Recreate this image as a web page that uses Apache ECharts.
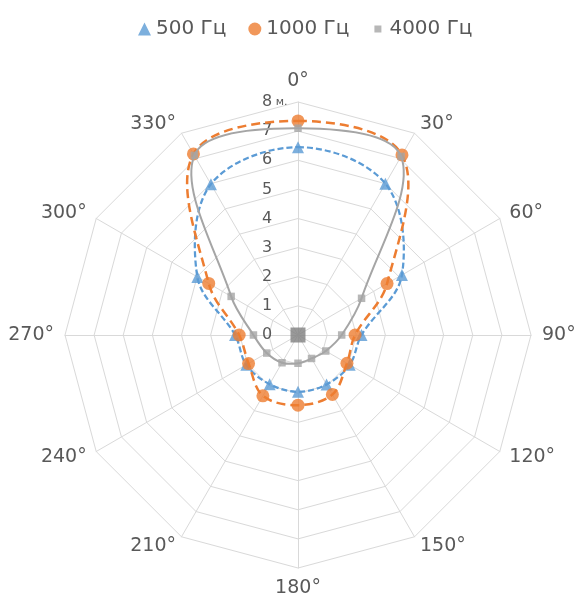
<!DOCTYPE html>
<html>
<head>
<meta charset="utf-8">
<script src="https://cdn.jsdelivr.net/npm/echarts@6/dist/echarts.min.js"></script>
<style>
html,body{margin:0;padding:0;background:#fff;}
#chart{width:575px;height:604px;}
</style>
</head>
<body>
<div id="chart"></div>
<script>
// ---- data ----
var angles = [0, 30, 60, 90, 120, 150, 180, 210, 240, 270, 300, 330];
var angleLabels = ['0°', '30°', '60°', '90°', '120°', '150°', '180°', '210°', '240°', '270°', '300°', '330°'];
var seriesNames = ['500 Гц', '1000 Гц', '4000 Гц'];
var values500 = [6.45, 6.0, 4.12, 2.18, 2.05, 1.96, 1.95, 1.95, 2.05, 2.16, 3.99, 5.98];
var values1000 = [7.35, 7.14, 3.53, 1.96, 1.94, 2.36, 2.41, 2.41, 1.96, 2.02, 3.54, 7.18];
var values4000 = [7.1, 7.08, 2.52, 1.5, 1.1, 0.93, 0.97, 1.1, 1.24, 1.53, 2.65, 7.12];
var centerMark = [[0, 0]];
var radiusMax = 8;
var radiusUnit = 'м.';

var FONT = 'DejaVu Sans';
var TXT = '#595959';
var CX = 298, CY = 335, R = 233;

var radiusLabel = {
  show: true,
  fontFamily: FONT, fontSize: 16, color: TXT,
  align: 'left', verticalAlign: 'middle', margin: 36,
  formatter: function (v) {
    return v === radiusMax ? '{d|' + v + '}{u| ' + radiusUnit + '}' : '{d|' + v + '}';
  },
  rich: {
    d: { fontFamily: FONT, fontSize: 16, color: TXT },
    u: { fontFamily: FONT, fontSize: 11, color: TXT }
  }
};

// radar indicators go counter-clockwise: reverse order after the first
var indicatorOrder = [0].concat(angles.slice(1).map(function (a, i) { return angles.length - 1 - i; }));
var indicators = indicatorOrder.map(function (idx, k) {
  var ind = { name: angleLabels[idx], min: 0, max: radiusMax };
  ind.axisLabel = k === 0 ? radiusLabel : { show: false };
  return ind;
});

function pairs(vals) {
  return vals.map(function (v, i) { return [v, angles[i]]; });
}

function loopSeries(vals, color, width, dash, z) {
  return {
    type: 'custom',
    coordinateSystem: 'polar',
    silent: true,
    clip: false,
    z: z,
    data: pairs(vals),
    renderItem: function (params, api) {
      if (params.dataIndex !== 0) return null;
      var pts = vals.map(function (v, i) { return api.coord([v, angles[i]]); });
      return {
        type: 'polygon',
        shape: { points: pts, smooth: 0.35 },
        style: { fill: 'none', stroke: color, lineWidth: width, lineDash: dash }
      };
    }
  };
}

function markSeries(name, vals, symbol, size, color, z) {
  return {
    type: 'scatter',
    name: name,
    coordinateSystem: 'polar',
    symbol: symbol,
    symbolSize: size,
    itemStyle: { color: color },
    z: z,
    silent: true,
    data: pairs(vals)
  };
}

var chart = echarts.init(document.getElementById('chart'), null, { renderer: 'canvas' });
chart.setOption({
  backgroundColor: '#ffffff',
  animation: false,
  legend: {
    left: 133,
    top: 14,
    itemWidth: 13,
    itemHeight: 13,
    itemGap: 22,
    textStyle: { fontFamily: FONT, fontSize: 20, color: TXT },
    data: [
      { name: seriesNames[0], icon: 'triangle' },
      { name: seriesNames[1], icon: 'circle' },
      { name: seriesNames[2], icon: 'path://M0,0L0,0M3,3L10,3L10,10L3,10ZM13,13L13,13' }
    ]
  },
  radar: {
    center: [CX, CY],
    radius: R,
    shape: 'polygon',
    splitNumber: 8,
    startAngle: 90,
    indicator: indicators,
    nameGap: 11,
    axisName: { fontFamily: FONT, fontSize: 19, color: TXT },
    axisLine: { lineStyle: { color: '#d9d9d9', width: 1 } },
    splitLine: { lineStyle: { color: '#d9d9d9', width: 1 } },
    splitArea: { show: false },
    axisTick: { show: false },
    z: 1
  },
  polar: { center: [CX, CY], radius: R },
  angleAxis: {
    type: 'value', min: 0, max: 360, interval: 30, startAngle: 90, clockwise: true,
    axisLine: { show: false }, axisTick: { show: false }, axisLabel: { show: false },
    splitLine: { show: false }
  },
  radiusAxis: {
    type: 'value', min: 0, max: radiusMax, interval: 1,
    axisLine: { show: false }, axisTick: { show: false }, splitLine: { show: false },
    axisLabel: { show: false }
  },
  series: [
    loopSeries(values500, '#5b9bd5', 2.25, [6, 3], 2),
    markSeries(seriesNames[0], values500, 'triangle', 12, '#5b9bd5', 3),
    loopSeries(values1000, '#ed7d31', 2.5, [9, 5], 4),
    markSeries(seriesNames[1], values1000, 'circle', 13, '#ed7d31', 5),
    loopSeries(values4000, '#a5a5a5', 2, null, 6),
    markSeries(seriesNames[2], values4000, 'rect', 7.5, '#a5a5a5', 7),
    {
      type: 'scatter', coordinateSystem: 'polar', symbol: 'rect', symbolSize: 15,
      itemStyle: { color: '#7f7f7f' }, z: 8, silent: true, data: centerMark
    }
  ]
});
</script>
</body>
</html>
